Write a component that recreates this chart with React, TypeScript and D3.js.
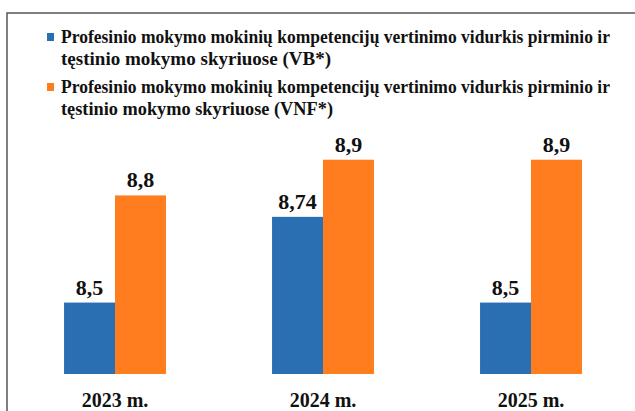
import * as d3 from "d3";

const years = ["2023 m.", "2024 m.", "2025 m."];
const vbValues = [8.5, 8.74, 8.5];
const vnfValues = [8.8, 8.9, 8.9];
const seriesLabels = [
  ["Profesinio mokymo mokinių kompetencijų vertinimo vidurkis pirminio ir", "tęstinio mokymo skyriuose (VB*)"],
  ["Profesinio mokymo mokinių kompetencijų vertinimo vidurkis pirminio ir", "tęstinio mokymo skyriuose (VNF*)"],
];
const colors = ["#2b6fb3", "#ff7d1f"];

const width = 635;
const height = 411;
const textStyle = { fontFamily: "Liberation Serif, Times New Roman, serif", fontWeight: 700 };

const fmt = (v: number) => String(v).replace(".", ",");

export default function App() {
  const x = d3.scaleBand<string>().domain(years).range([11, 635]).paddingInner(0.51).paddingOuter(0.255);
  const xs = d3.scaleBand<number>().domain([0, 1]).range([0, x.bandwidth()]);
  const y = d3.scaleLinear().domain([8.3, 9.0]).range([374, 124]);

  const series = [vbValues, vnfValues];

  return (
    <svg width={width} height={height} style={{ position: "absolute", left: 0, top: 0, background: "#fff" }}>
      <path d={`M7,${height} V13 H${width}`} fill="none" stroke="#555" strokeWidth={1.5} />

      {/* legend */}
      {seriesLabels.map((lines, i) => {
        const top = 43 + i * 50;
        return (
          <g key={i}>
            <rect x={47} y={top - 10} width={7} height={8} fill={colors[i]} />
            {lines.map((t, j) => (
              <text
                key={j}
                x={61}
                y={top + j * 21.5}
                style={textStyle}
                fontSize={18}
                fill="#111"
                textLength={j === 0 ? 549 : i === 0 ? 270 : 272}
                lengthAdjust="spacingAndGlyphs"
              >
                {t}
              </text>
            ))}
          </g>
        );
      })}

      {/* bars */}
      {years.map((yr, gi) => (
        <g key={yr} transform={`translate(${x(yr)},0)`}>
          {series.map((vals, si) => {
            const v = vals[gi];
            const bx = xs(si)!;
            return (
              <g key={si}>
                <rect x={bx} y={y(v)} width={xs.bandwidth()} height={y(8.3) - y(v)} fill={colors[si]} />
                <text
                  x={bx + xs.bandwidth() / 2}
                  y={y(v) - 8}
                  textAnchor="middle"
                  style={textStyle}
                  fontSize={22}
                  fill="#111"
                >
                  {fmt(v)}
                </text>
              </g>
            );
          })}
          <text
            x={x.bandwidth() / 2}
            y={407}
            textAnchor="middle"
            style={textStyle}
            fontSize={20}
            fill="#111"
          >
            {yr}
          </text>
        </g>
      ))}
    </svg>
  );
}
